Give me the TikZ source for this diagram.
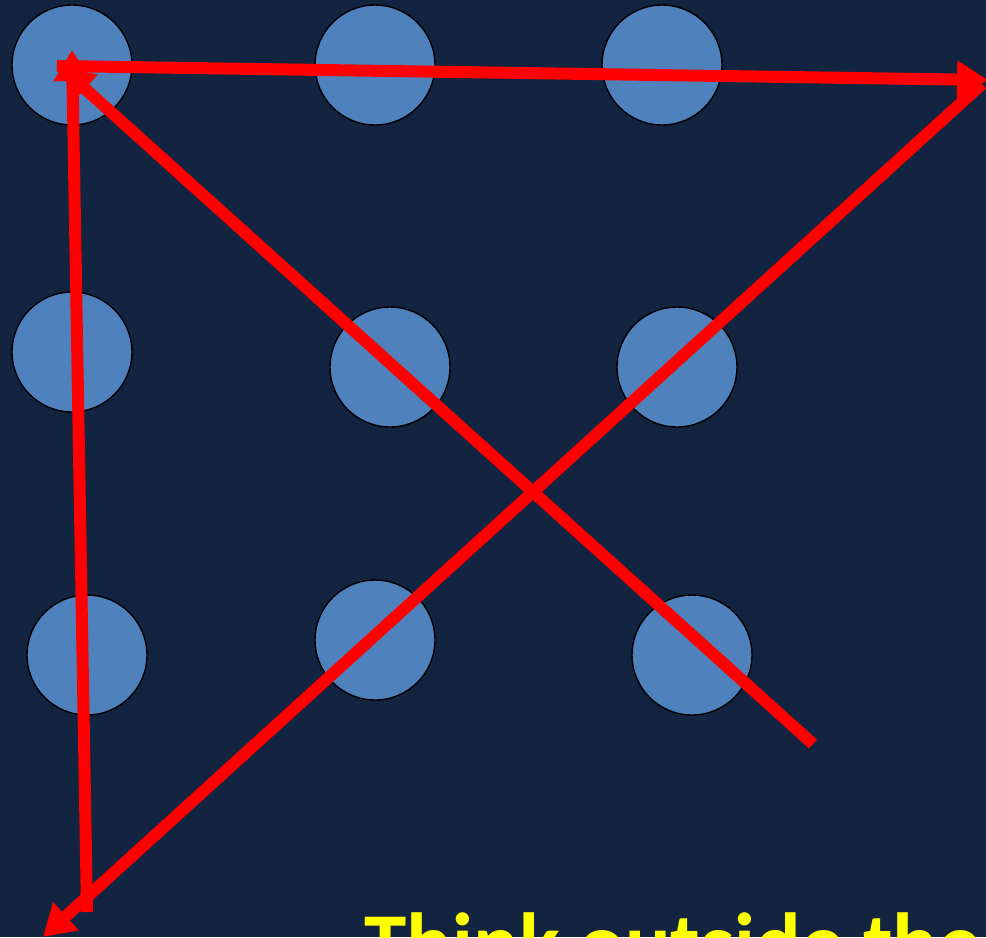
\documentclass[tikz,border=0pt]{standalone}
\usepackage{fontspec}
\setmainfont{Carlito}
\usetikzlibrary{arrows.meta}
\definecolor{slidebg}{HTML}{12243F}
\definecolor{dotblue}{HTML}{4F81BD}
\definecolor{hintyellow}{HTML}{FFFF00}

\begin{document}
\begin{tikzpicture}[x=0.02cm, y=-0.02cm,
    dot/.style={circle, fill=dotblue, draw=black, line width=0.8pt, minimum size=2.4cm, inner sep=0pt},
    stroke/.style={draw=red, line width=0.24cm},
    arr/.style={stroke, -{Triangle[length=0.62cm, width=0.72cm]}},
    lbl/.style={font=\bfseries\fontsize{48.5}{58}\selectfont, text=hintyellow, inner sep=0pt},
  ]

  % slide background
  \fill[slidebg] (0,0) rectangle (986,937);
  \useasboundingbox (0,0) rectangle (986,937);

  % the nine dots
  \foreach \n/\x/\y in {a/72/65, b/375/65, c/662/65, d/72/352, e/390/367, f/677/367, g/87/655, h/375/640, i/692/655} {
    \node[dot] (\n) at (\x,\y) {};
  }

  % ends of the four strokes
  \coordinate (s1) at (813,744);
  \coordinate (t1) at (62,68);
  \coordinate (s2) at (57,66);
  \coordinate (t2) at (988,80);
  \coordinate (s3) at (982,84);
  \coordinate (t3) at (43,937);
  \coordinate (s4) at (87,912);
  \coordinate (t4) at (72,50);

  \draw[arr] (s1) -- (t1);
  \draw[arr] (s2) -- (t2);
  \draw[arr] (s3) -- (t3);
  \draw[arr] (s4) -- (t4);

  % caption, cut by the page edge
  \node[lbl, anchor=base west] (hint) at (364,972) {Think outside the};
\end{tikzpicture}
\end{document}
